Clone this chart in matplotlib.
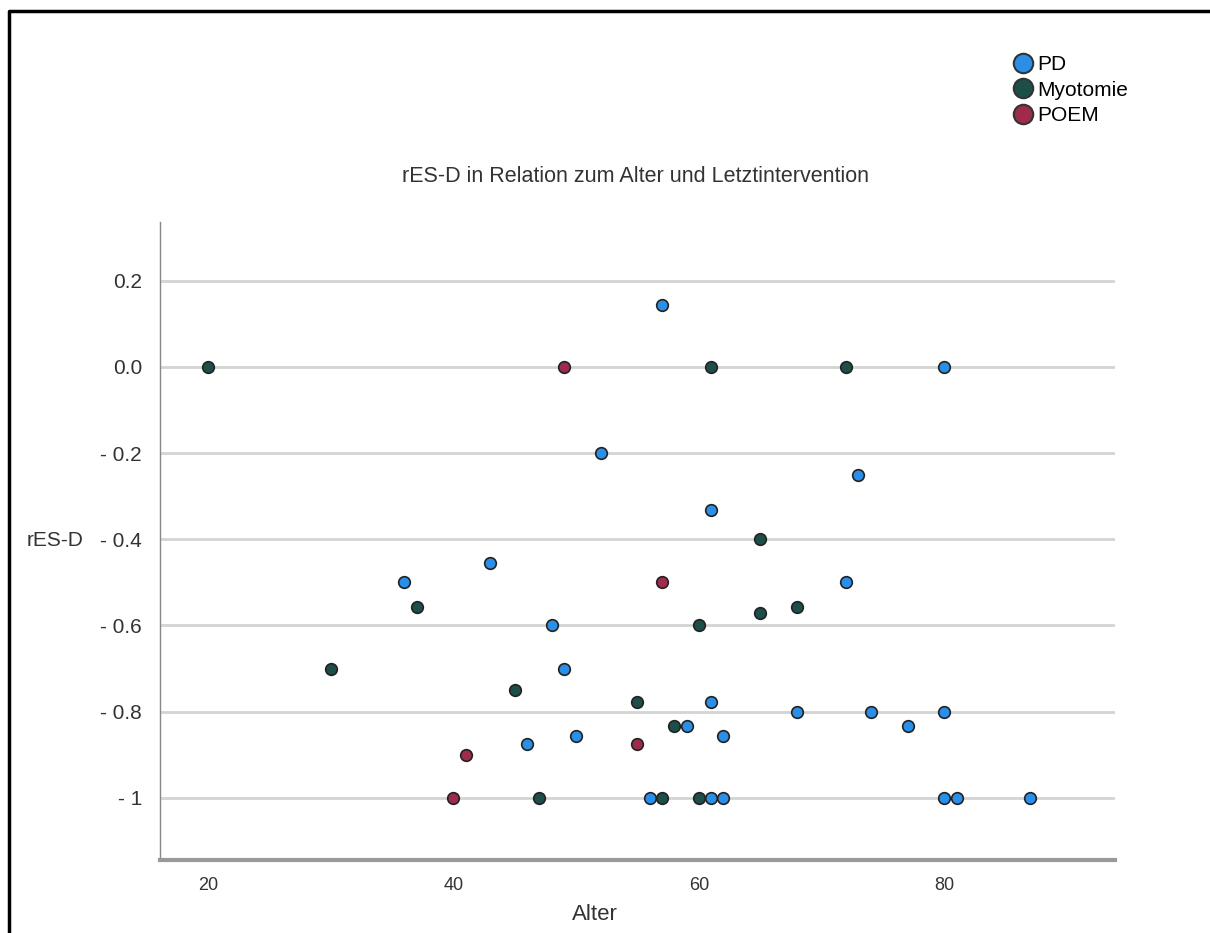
import matplotlib
matplotlib.use("Agg")
import matplotlib.pyplot as plt
from matplotlib.lines import Line2D

plt.rcParams['font.family'] = ['Liberation Sans', 'DejaVu Sans']

# data
pd_alter = [57, 80, 52, 73, 61, 36, 43, 72, 48, 49, 61, 68, 74, 80, 77, 59, 62, 50, 46,
            56, 61, 62, 80, 81, 87]
pd_resd = [0.143, 0.0, -0.2, -0.25, -0.333, -0.5, -0.455, -0.5, -0.6, -0.7, -0.778, -0.8, -0.8, -0.8,
           -0.833, -0.833, -0.857, -0.857, -0.875, -1, -1, -1, -1, -1, -1]

myo_alter = [20, 61, 72, 65, 37, 68, 65, 60, 30, 45, 55, 58, 47, 57, 60]
myo_resd = [0.0, 0.0, 0.0, -0.4, -0.556, -0.556, -0.571, -0.6, -0.7, -0.75, -0.778, -0.833, -1, -1, -1]

poem_alter = [49, 57, 41, 55, 40]
poem_resd = [0.0, -0.5, -0.9, -0.875, -1]

y_ticks = [0.2, 0.0, -0.2, -0.4, -0.6, -0.8, -1.0]
y_ticklabels = ["0.2", "0.0", "- 0.2", "- 0.4", "- 0.6", "- 0.8", "- 1"]
x_ticks = [20, 40, 60, 80]

c_pd = "#2a8fe8"
c_myo = "#1d4f4a"
c_poem = "#a02a4c"

fig = plt.figure(figsize=(12.10, 9.33), dpi=100)
ax = fig.add_axes([160 / 1210, 1 - 860 / 933, (1115 - 160) / 1210, (860 - 222) / 933])

for y in y_ticks:
    ax.axhline(y, color="#d4d4d4", lw=2, zorder=1)

ax.scatter(pd_alter, pd_resd, s=70, c=c_pd, edgecolors="#222222", linewidths=1.2, zorder=3)
ax.scatter(myo_alter, myo_resd, s=70, c=c_myo, edgecolors="#222222", linewidths=1.2, zorder=3)
ax.scatter(poem_alter, poem_resd, s=70, c=c_poem, edgecolors="#222222", linewidths=1.2, zorder=3)

ax.set_xlim(16.1, 93.9)
ax.set_ylim(-1.144, 0.336)
ax.set_xticks(x_ticks)
ax.set_xticklabels([str(t) for t in x_ticks], fontsize=13, color="#333333")
ax.set_yticks(y_ticks)
ax.set_yticklabels(y_ticklabels, fontsize=15, color="#333333")
ax.tick_params(length=0)
ax.tick_params(axis="y", pad=13)
ax.tick_params(axis="x", pad=12)

for side in ["top", "right"]:
    ax.spines[side].set_visible(False)
ax.spines["left"].set_color("#888888")
ax.spines["left"].set_linewidth(1)
ax.spines["bottom"].set_color("#999999")
ax.spines["bottom"].set_linewidth(3)

fig.text(595 / 1210, 1 - 914 / 933, "Alter", fontsize=16, ha="center", va="center", color="#333333")
fig.text(55 / 1210, 1 - 540 / 933, "rES-D", fontsize=15, ha="center", va="center", color="#333333")
fig.text(636 / 1210, 1 - 177 / 933, "rES-D in Relation zum Alter und Letztintervention",
         fontsize=15.5, ha="center", va="center", color="#333333")

handles = [Line2D([], [], ls="none", marker="o", ms=14, mfc=c, mec="#333333", mew=1.5)
           for c in [c_pd, c_myo, c_poem]]
fig.legend(handles, ["PD", "Myotomie", "POEM"], loc="upper left",
           bbox_to_anchor=(998 / 1210, 1 - 45 / 933), frameon=False, fontsize=15,
           handletextpad=0.0, labelspacing=0.3, handlelength=1.4, borderpad=0)

# black frame, left and top edges only
fig.add_artist(Line2D([9 / 1210, 9 / 1210, 1.0], [0.0, 1 - 11 / 933, 1 - 11 / 933],
                      transform=fig.transFigure, color="black", lw=2.5))

fig.savefig("out.png", dpi=100)
